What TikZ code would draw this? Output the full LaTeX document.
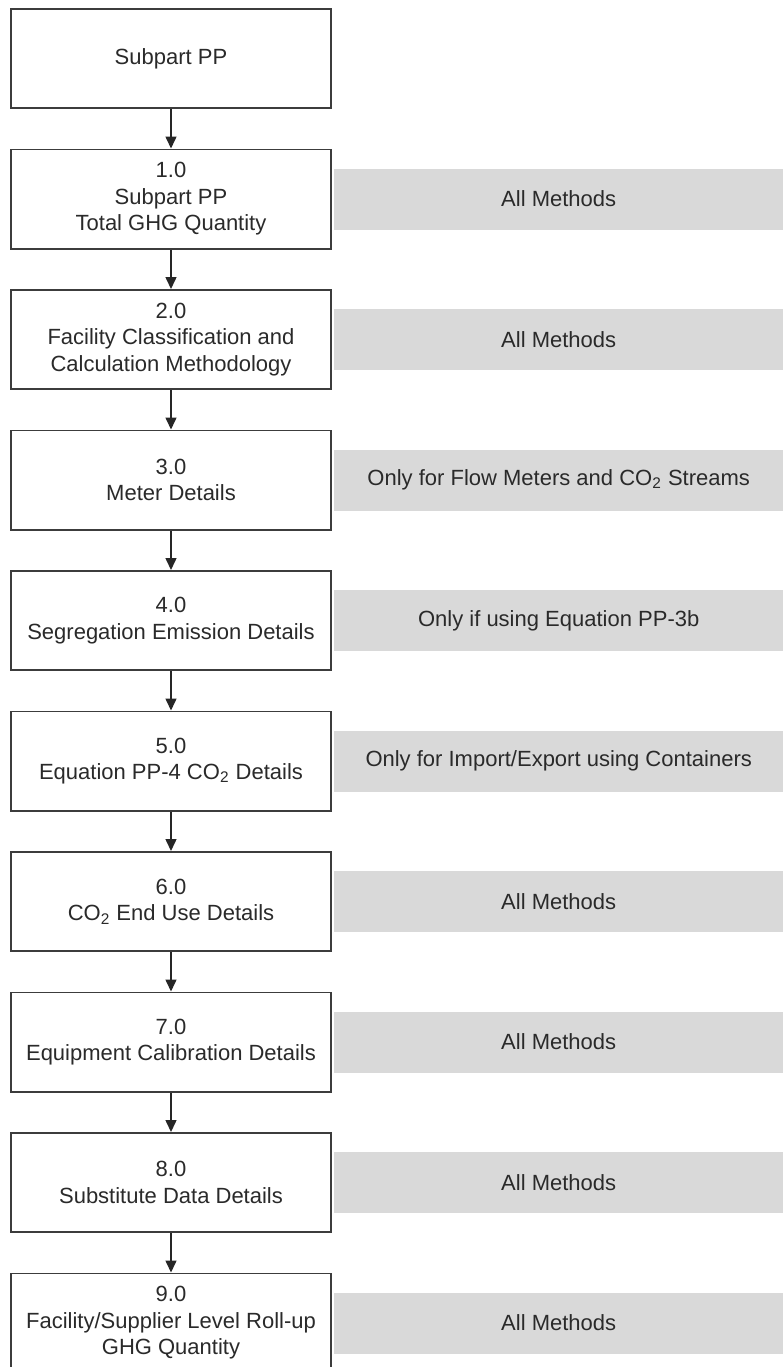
\documentclass[tikz,border=0pt]{standalone}
\usepackage{fontspec}
\setmainfont{Liberation Sans}
\usetikzlibrary{positioning}
\usetikzlibrary{arrows.meta}
\definecolor{boxline}{HTML}{3C3C3C}
\definecolor{bandgray}{HTML}{D9D9D9}
\definecolor{txtgray}{HTML}{2A2A2A}
\newcommand{\COtwo}{CO\textsubscript{2}}
\tikzset{>={Triangle[length=6pt,width=5.5pt]}}
\tikzset{stepbox/.style={draw=boxline, line width=0.8pt, fill=white, minimum width=160pt, minimum height=49.7pt, inner sep=0pt, align=center, text=txtgray, font=\fontsize{11}{13.25}\selectfont}}
\tikzset{band/.style={fill=bandgray, minimum width=224.5pt, minimum height=30.5pt, inner sep=0pt, text=txtgray, font=\fontsize{11}{13.25}\selectfont}}
\tikzset{flow/.style={->, draw=black!85, line width=0.75pt}}

\begin{document}
\begin{tikzpicture}[node distance=19.75pt]
\path[use as bounding box, clip] (0,0) rectangle (391.5pt,-683.5pt);

\node[stepbox] (sec0) at (85.5pt,-29.25pt) {Subpart PP};
\node[stepbox] (sec1) [below=of sec0] {1.0\\Subpart PP\\Total GHG Quantity};
\node[stepbox] (sec2) [below=of sec1] {2.0\\Facility Classification and\\Calculation Methodology};
\node[stepbox] (sec3) [below=of sec2] {3.0\\Meter Details};
\node[stepbox] (sec4) [below=of sec3] {4.0\\Segregation Emission Details};
\node[stepbox] (sec5) [below=of sec4] {5.0\\Equation PP-4 \COtwo{} Details};
\node[stepbox] (sec6) [below=of sec5] {6.0\\\COtwo{} End Use Details};
\node[stepbox] (sec7) [below=of sec6] {7.0\\Equipment Calibration Details};
\node[stepbox] (sec8) [below=of sec7] {8.0\\Substitute Data Details};
\node[stepbox] (sec9) [below=of sec8] {9.0\\Facility/Supplier Level Roll-up\\GHG Quantity};

% method notes
\node[band] (note1) [right=1pt of sec1] {All Methods};
\node[band] (note2) [right=1pt of sec2] {All Methods};
\node[band] (note3) [right=1pt of sec3] {Only for Flow Meters and \COtwo{} Streams};
\node[band] (note4) [right=1pt of sec4] {Only if using Equation PP-3b};
\node[band] (note5) [right=1pt of sec5] {Only for Import/Export using Containers};
\node[band] (note6) [right=1pt of sec6] {All Methods};
\node[band] (note7) [right=1pt of sec7] {All Methods};
\node[band] (note8) [right=1pt of sec8] {All Methods};
\node[band] (note9) [right=1pt of sec9] {All Methods};

\draw[flow] (sec0) -- (sec1);
\draw[flow] (sec1) -- (sec2);
\draw[flow] (sec2) -- (sec3);
\draw[flow] (sec3) -- (sec4);
\draw[flow] (sec4) -- (sec5);
\draw[flow] (sec5) -- (sec6);
\draw[flow] (sec6) -- (sec7);
\draw[flow] (sec7) -- (sec8);
\draw[flow] (sec8) -- (sec9);
\end{tikzpicture}
\end{document}
